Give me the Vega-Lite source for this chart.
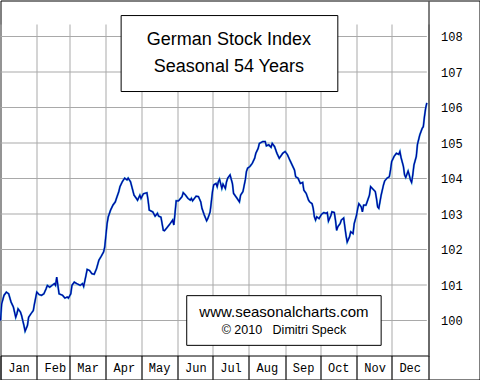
{
  "$schema": "https://vega.github.io/schema/vega-lite/v6.json",
  "width": 479,
  "height": 379,
  "autosize": "none",
  "padding": {"left": 0.5, "top": 0.5, "right": 0.5, "bottom": 0.5},
  "background": "white",
  "config": {"view": {"stroke": "black", "strokeWidth": 1, "fill": "white"}},
  "datasets": {
    "series": [
      {"date":"2010-01-01","value":100.00},{"date":"2010-01-02","value":100.47},{"date":"2010-01-04","value":100.71},{"date":"2010-01-06","value":100.80},{"date":"2010-01-08","value":100.75},{"date":"2010-01-10","value":100.52},{"date":"2010-01-12","value":100.38},{"date":"2010-01-14","value":100.09},{"date":"2010-01-15","value":100.19},{"date":"2010-01-16","value":100.33},{"date":"2010-01-18","value":100.24},{"date":"2010-01-19","value":100.14},{"date":"2010-01-21","value":99.86},{"date":"2010-01-22","value":99.70},{"date":"2010-01-24","value":99.86},{"date":"2010-01-25","value":100.09},{"date":"2010-01-27","value":100.19},{"date":"2010-01-29","value":100.28},{"date":"2010-01-30","value":100.47},
      {"date":"2010-02-01","value":100.80},{"date":"2010-02-03","value":100.73},{"date":"2010-02-05","value":100.71},{"date":"2010-02-07","value":100.75},{"date":"2010-02-09","value":100.90},{"date":"2010-02-10","value":100.99},{"date":"2010-02-12","value":100.94},{"date":"2010-02-14","value":100.99},{"date":"2010-02-16","value":101.04},{"date":"2010-02-17","value":100.99},{"date":"2010-02-18","value":101.22},{"date":"2010-02-19","value":100.99},{"date":"2010-02-20","value":100.75},{"date":"2010-02-23","value":100.71},{"date":"2010-02-25","value":100.63},{"date":"2010-02-27","value":100.66},{"date":"2010-02-28","value":100.63},
      {"date":"2010-03-02","value":100.75},{"date":"2010-03-03","value":100.99},{"date":"2010-03-05","value":101.08},{"date":"2010-03-07","value":101.04},{"date":"2010-03-10","value":100.99},{"date":"2010-03-12","value":101.04},{"date":"2010-03-13","value":100.96},{"date":"2010-03-15","value":101.27},{"date":"2010-03-16","value":101.44},{"date":"2010-03-18","value":101.41},{"date":"2010-03-20","value":101.32},{"date":"2010-03-22","value":101.30},{"date":"2010-03-24","value":101.46},{"date":"2010-03-26","value":101.70},{"date":"2010-03-28","value":101.81},{"date":"2010-03-30","value":101.93},{"date":"2010-03-31","value":102.07},
      {"date":"2010-04-01","value":102.40},{"date":"2010-04-02","value":102.73},{"date":"2010-04-03","value":102.92},{"date":"2010-04-05","value":103.11},{"date":"2010-04-07","value":103.25},{"date":"2010-04-09","value":103.34},{"date":"2010-04-10","value":103.44},{"date":"2010-04-12","value":103.63},{"date":"2010-04-13","value":103.77},{"date":"2010-04-15","value":103.91},{"date":"2010-04-17","value":104.01},{"date":"2010-04-19","value":103.96},{"date":"2010-04-20","value":104.01},{"date":"2010-04-22","value":103.91},{"date":"2010-04-24","value":103.66},{"date":"2010-04-25","value":103.53},{"date":"2010-04-27","value":103.44},{"date":"2010-04-28","value":103.39},{"date":"2010-04-30","value":103.53},
      {"date":"2010-05-01","value":103.44},{"date":"2010-05-03","value":103.57},{"date":"2010-05-06","value":103.60},{"date":"2010-05-07","value":103.39},{"date":"2010-05-08","value":103.11},{"date":"2010-05-11","value":103.06},{"date":"2010-05-13","value":102.94},{"date":"2010-05-15","value":103.02},{"date":"2010-05-16","value":102.94},{"date":"2010-05-18","value":102.91},{"date":"2010-05-20","value":102.54},{"date":"2010-05-21","value":102.53},{"date":"2010-05-23","value":102.61},{"date":"2010-05-25","value":102.69},{"date":"2010-05-28","value":102.83},{"date":"2010-05-29","value":102.69},{"date":"2010-05-30","value":103.02},{"date":"2010-05-31","value":103.37},
      {"date":"2010-06-02","value":103.37},{"date":"2010-06-05","value":103.49},{"date":"2010-06-06","value":103.60},{"date":"2010-06-08","value":103.53},{"date":"2010-06-10","value":103.44},{"date":"2010-06-12","value":103.39},{"date":"2010-06-13","value":103.44},{"date":"2010-06-14","value":103.37},{"date":"2010-06-17","value":103.50},{"date":"2010-06-19","value":103.49},{"date":"2010-06-21","value":103.34},{"date":"2010-06-22","value":103.16},{"date":"2010-06-24","value":102.97},{"date":"2010-06-26","value":102.81},{"date":"2010-06-27","value":102.87},{"date":"2010-06-29","value":103.06},{"date":"2010-06-30","value":103.34},
      {"date":"2010-07-01","value":103.63},{"date":"2010-07-02","value":103.82},{"date":"2010-07-04","value":103.86},{"date":"2010-07-05","value":103.77},{"date":"2010-07-06","value":103.91},{"date":"2010-07-07","value":103.98},{"date":"2010-07-09","value":103.72},{"date":"2010-07-10","value":103.84},{"date":"2010-07-12","value":103.72},{"date":"2010-07-13","value":103.91},{"date":"2010-07-14","value":104.01},{"date":"2010-07-16","value":104.10},{"date":"2010-07-18","value":103.86},{"date":"2010-07-19","value":103.58},{"date":"2010-07-22","value":103.44},{"date":"2010-07-23","value":103.39},{"date":"2010-07-24","value":103.34},{"date":"2010-07-25","value":103.53},{"date":"2010-07-27","value":103.63},{"date":"2010-07-29","value":103.96},{"date":"2010-07-30","value":104.20},{"date":"2010-07-31","value":104.29},
      {"date":"2010-08-02","value":104.34},{"date":"2010-08-04","value":104.43},{"date":"2010-08-06","value":104.57},{"date":"2010-08-07","value":104.71},{"date":"2010-08-09","value":104.85},{"date":"2010-08-10","value":104.99},{"date":"2010-08-13","value":105.04},{"date":"2010-08-15","value":105.04},{"date":"2010-08-16","value":104.92},{"date":"2010-08-18","value":104.95},{"date":"2010-08-20","value":104.88},{"date":"2010-08-21","value":104.99},{"date":"2010-08-23","value":104.90},{"date":"2010-08-25","value":104.71},{"date":"2010-08-27","value":104.57},{"date":"2010-08-30","value":104.71},
      {"date":"2010-09-01","value":104.76},{"date":"2010-09-03","value":104.67},{"date":"2010-09-05","value":104.52},{"date":"2010-09-07","value":104.38},{"date":"2010-09-09","value":104.24},{"date":"2010-09-10","value":104.05},{"date":"2010-09-12","value":104.01},{"date":"2010-09-14","value":103.86},{"date":"2010-09-16","value":103.89},{"date":"2010-09-17","value":103.67},{"date":"2010-09-19","value":103.58},{"date":"2010-09-21","value":103.39},{"date":"2010-09-22","value":103.34},{"date":"2010-09-24","value":103.29},{"date":"2010-09-25","value":103.16},{"date":"2010-09-26","value":102.92},{"date":"2010-09-27","value":102.83},{"date":"2010-09-28","value":102.92},{"date":"2010-09-30","value":102.87},
      {"date":"2010-10-02","value":102.99},{"date":"2010-10-04","value":103.04},{"date":"2010-10-06","value":103.02},{"date":"2010-10-07","value":103.04},{"date":"2010-10-08","value":102.80},{"date":"2010-10-10","value":102.95},{"date":"2010-10-11","value":103.06},{"date":"2010-10-13","value":103.04},{"date":"2010-10-14","value":102.83},{"date":"2010-10-15","value":102.54},{"date":"2010-10-16","value":102.64},{"date":"2010-10-18","value":102.73},{"date":"2010-10-19","value":102.83},{"date":"2010-10-21","value":102.89},{"date":"2010-10-22","value":102.64},{"date":"2010-10-23","value":102.40},{"date":"2010-10-24","value":102.21},{"date":"2010-10-26","value":102.36},{"date":"2010-10-27","value":102.50},{"date":"2010-10-29","value":102.45},{"date":"2010-10-30","value":102.73},
      {"date":"2010-11-01","value":102.97},{"date":"2010-11-02","value":103.16},{"date":"2010-11-03","value":103.29},{"date":"2010-11-05","value":103.20},{"date":"2010-11-06","value":103.06},{"date":"2010-11-07","value":103.25},{"date":"2010-11-09","value":103.25},{"date":"2010-11-10","value":103.34},{"date":"2010-11-12","value":103.53},{"date":"2010-11-13","value":103.77},{"date":"2010-11-15","value":103.70},{"date":"2010-11-17","value":103.63},{"date":"2010-11-18","value":103.44},{"date":"2010-11-19","value":103.20},{"date":"2010-11-20","value":103.16},{"date":"2010-11-21","value":103.34},{"date":"2010-11-22","value":103.53},{"date":"2010-11-24","value":103.82},{"date":"2010-11-25","value":103.93},{"date":"2010-11-27","value":104.01},{"date":"2010-11-29","value":104.05},{"date":"2010-11-30","value":104.24},
      {"date":"2010-12-01","value":104.48},{"date":"2010-12-03","value":104.62},{"date":"2010-12-05","value":104.71},{"date":"2010-12-07","value":104.68},{"date":"2010-12-08","value":104.76},{"date":"2010-12-09","value":104.59},{"date":"2010-12-11","value":104.34},{"date":"2010-12-12","value":104.10},{"date":"2010-12-13","value":104.03},{"date":"2010-12-15","value":104.21},{"date":"2010-12-16","value":104.10},{"date":"2010-12-17","value":103.96},{"date":"2010-12-18","value":103.89},{"date":"2010-12-19","value":104.10},{"date":"2010-12-20","value":104.38},{"date":"2010-12-22","value":104.62},{"date":"2010-12-23","value":104.96},{"date":"2010-12-25","value":105.23},{"date":"2010-12-27","value":105.41},{"date":"2010-12-28","value":105.46},{"date":"2010-12-29","value":105.75},{"date":"2010-12-30","value":105.98},{"date":"2010-12-31","value":106.13}
    ],
    "levels": [
      {"level":100,"day":"2010-01-01"},{"level":100,"day":"2010-12-31"},
      {"level":101,"day":"2010-01-01"},{"level":101,"day":"2010-12-31"},
      {"level":102,"day":"2010-01-01"},{"level":102,"day":"2010-12-31"},
      {"level":103,"day":"2010-01-01"},{"level":103,"day":"2010-12-31"},
      {"level":104,"day":"2010-01-01"},{"level":104,"day":"2010-12-31"},
      {"level":105,"day":"2010-01-01"},{"level":105,"day":"2010-12-31"},
      {"level":106,"day":"2010-01-01"},{"level":106,"day":"2010-12-31"},
      {"level":107,"day":"2010-01-01"},{"level":107,"day":"2010-12-31"},
      {"level":108,"day":"2010-01-01"},{"level":108,"day":"2010-12-31"}
    ],
    "boxes": [
      {"x0":"2010-04-14","x1":"2010-10-16","y0":108.59,"y1":106.45},
      {"x0":"2010-06-09","x1":"2010-11-22","y0":100.70,"y1":99.30}
    ],
    "titles": [
      {"d":"2010-07-15","v":107.75,"t":"German Stock Index"},
      {"d":"2010-07-15","v":107.01,"t":"Seasonal 54 Years"}
    ],
    "credits": [
      {"d":"2010-08-31","v":100.11,"t":"www.seasonalcharts.com","s":15},
      {"d":"2010-08-31","v":99.63,"t":"© 2010\u00a0\u00a0 Dimitri Speck","s":12.5}
    ]
  },
  "layer": [
    {
      "data": {"name": "levels"},
      "mark": {"type": "line", "stroke": "#a9a9a9", "strokeWidth": 1},
      "encoding": {
        "x": {
          "field": "day", "type": "temporal", "title": null,
          "scale": {"type": "utc", "domain": [{"year": 2010, "month": 1, "date": 1, "utc": true}, {"year": 2011, "month": 1, "date": 1, "utc": true}], "range": [0, 427.5]},
          "axis": {
            "orient": "bottom", "offset": -24, "tickCount": "month", "title": null, "zindex": 0,
            "grid": true, "gridColor": "#a9a9a9", "gridWidth": 1,
            "domain": true, "domainColor": "black", "domainWidth": 1,
            "ticks": true, "tickColor": "black", "tickSize": 24, "tickWidth": 1,
            "labelExpr": "utcyear(datum.value) > 2010 ? '' : utcFormat(datum.value, '%b')",
            "labelAlign": "center", "labelBaseline": "middle", "labelPadding": -12, "labelOffset": 18,
            "labelFont": "Liberation Mono", "labelFontSize": 12, "labelColor": "black",
            "labelFlush": false, "labelOverlap": false, "labelBound": false
          }
        },
        "y": {
          "field": "level", "type": "quantitative", "title": null,
          "scale": {"domain": [99, 109], "range": [355.5, 0.5], "zero": false, "nice": false},
          "axis": {
            "orient": "right", "offset": -51, "values": [100, 101, 102, 103, 104, 105, 106, 107, 108], "title": null, "zindex": 0,
            "grid": false,
            "domain": true, "domainColor": "black", "domainWidth": 1,
            "ticks": false, "labelPadding": 12, "labelAlign": "left", "labelBaseline": "middle",
            "labelFont": "Liberation Mono", "labelFontSize": 12, "labelColor": "black"
          }
        },
        "detail": {"field": "level", "type": "nominal"}
      }
    },
    {
      "data": {"name": "series"},
      "mark": {"type": "line", "stroke": "#38a8d8", "strokeWidth": 2.0},
      "encoding": {
        "x": {"field": "date", "type": "temporal", "title": null},
        "y": {"field": "value", "type": "quantitative", "title": null}
      }
    },
    {
      "data": {"name": "series"},
      "mark": {"type": "line", "stroke": "#0000a0", "strokeWidth": 1.2},
      "encoding": {
        "x": {"field": "date", "type": "temporal", "title": null},
        "y": {"field": "value", "type": "quantitative", "title": null}
      }
    },
    {
      "data": {"name": "boxes"},
      "mark": {"type": "rect", "fill": "white", "stroke": "black", "strokeWidth": 1},
      "encoding": {
        "x": {"field": "x0", "type": "temporal", "title": null},
        "x2": {"field": "x1"},
        "y": {"field": "y0", "type": "quantitative", "title": null},
        "y2": {"field": "y1"}
      }
    },
    {
      "data": {"name": "titles"},
      "mark": {"type": "text", "font": "Liberation Sans", "fontSize": 18, "color": "black", "align": "center", "baseline": "alphabetic"},
      "encoding": {
        "x": {"field": "d", "type": "temporal", "title": null},
        "y": {"field": "v", "type": "quantitative", "title": null},
        "text": {"field": "t"}
      }
    },
    {
      "data": {"name": "credits"},
      "mark": {"type": "text", "font": "Liberation Sans", "color": "black", "align": "center", "baseline": "alphabetic"},
      "encoding": {
        "x": {"field": "d", "type": "temporal", "title": null},
        "y": {"field": "v", "type": "quantitative", "title": null},
        "text": {"field": "t"},
        "size": {"field": "s", "type": "quantitative", "scale": null, "legend": null}
      }
    }
  ]
}
